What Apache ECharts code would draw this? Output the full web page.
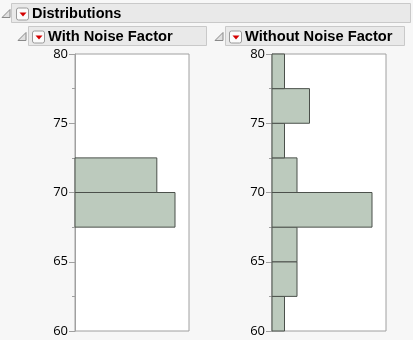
<!DOCTYPE html>
<html><head><meta charset="utf-8">
<script src="https://cdn.jsdelivr.net/npm/echarts@6/dist/echarts.min.js"></script>
<style>html,body{margin:0;padding:0;background:#f7f7f7}#c{width:413px;height:340px}</style>
</head><body><div id="c"></div>
<script>
// Bin edges (lower, upper) and counts
const binLow  = [60, 62.5, 65, 67.5, 70, 72.5, 75, 77.5];
const binHigh = [62.5, 65, 67.5, 70, 72.5, 75, 77.5, 80];
const withNoiseCounts    = [0, 0, 0, 11, 9, 0, 0, 0];
const withoutNoiseCounts = [1, 2, 2, 8, 2, 1, 3, 1];
const yTicks = [60, 65, 70, 75, 80];
const titles = ['Distributions', 'With Noise Factor', 'Without Noise Factor'];

function binData(counts){
  const out = [];
  counts.forEach((c,i)=>{ if(c>0) out.push([c, binLow[i], binHigh[i]]); });
  return out;
}
function renderBar(params, api){
  const p0 = api.coord([0, api.value(1)]);
  const p1 = api.coord([api.value(0), api.value(2)]);
  return {type:'rect', shape:{x:p0[0], y:p1[1], width:p1[0]-p0[0], height:p0[1]-p1[1]},
    style:{fill:'#bccabd', stroke:'#4b504b', lineWidth:1}};
}
const font = '"Open Sans", "Liberation Sans", sans-serif';
function yAxis(idx){
  return {type:'value', gridIndex:idx, min:yTicks[0], max:yTicks[yTicks.length-1], interval:5,
    axisLine:{show:true, lineStyle:{color:'#a0a0a0'}},
    axisTick:{show:true, length:6, lineStyle:{color:'#a0a0a0'}},
    minorTick:{show:true, splitNumber:2, length:3, lineStyle:{color:'#a0a0a0'}},
    splitLine:{show:false},
    axisLabel:{color:'#000', fontSize:13, fontFamily:font, margin:7}};
}
function header(x, y, w, h, tx, label, fs){
  return [
    {type:'rect', shape:{x:x, y:y, width:w, height:h}, style:{fill:'#e9e9e9', stroke:'#c9c9c9', lineWidth:1}},
    {type:'polygon', shape:{points:[[tx,y+h-5],[tx+8,y+h-5],[tx+8,y+h-13]]}, style:{fill:'#e0e0e0', stroke:'#8a8a8a', lineWidth:1}},
    {type:'rect', shape:{x:tx+14.5, y:y+4.5, width:12, height:12, r:2}, style:{fill:'#fbfbfb', stroke:'#9a9a9a', lineWidth:1}},
    {type:'polygon', shape:{points:[[tx+17.5,y+9],[tx+24.5,y+9],[tx+21,y+13]]}, style:{fill:'#d40000'}},
    {type:'text', x:tx+30, y:y+h/2+0.5, style:{text:label, font:'bold '+fs+'px "Liberation Sans", Arial, sans-serif', fill:'#000', verticalAlign:'middle'}}
  ];
}
const chart = echarts.init(document.getElementById('c'));
chart.setOption({
  backgroundColor:'#f7f7f7',
  animation:false,
  grid:[
    {left:75, top:54, width:114, height:277, show:true, backgroundColor:'#fff', borderColor:'#a0a0a0', borderWidth:1},
    {left:272, top:54, width:114, height:277, show:true, backgroundColor:'#fff', borderColor:'#a0a0a0', borderWidth:1}
  ],
  xAxis:[
    {type:'value', gridIndex:0, min:0, max:12.54, show:false},
    {type:'value', gridIndex:1, min:0, max:9.12, show:false}
  ],
  yAxis:[yAxis(0), yAxis(1)],
  series:[
    {type:'custom', xAxisIndex:0, yAxisIndex:0, data:binData(withNoiseCounts), renderItem:renderBar, encode:{x:0, y:[1,2]}, clip:false},
    {type:'custom', xAxisIndex:1, yAxisIndex:1, data:binData(withoutNoiseCounts), renderItem:renderBar, encode:{x:0, y:[1,2]}, clip:false}
  ],
  graphic:[].concat(
    header(11.5, 3.5, 399, 19, 2, titles[0], 14.5),
    header(28.5, 26.5, 178, 19, 18, titles[1], 14.7),
    header(225.5, 26.5, 179, 19, 215, titles[2], 14.7)
  )
});
</script></body></html>
